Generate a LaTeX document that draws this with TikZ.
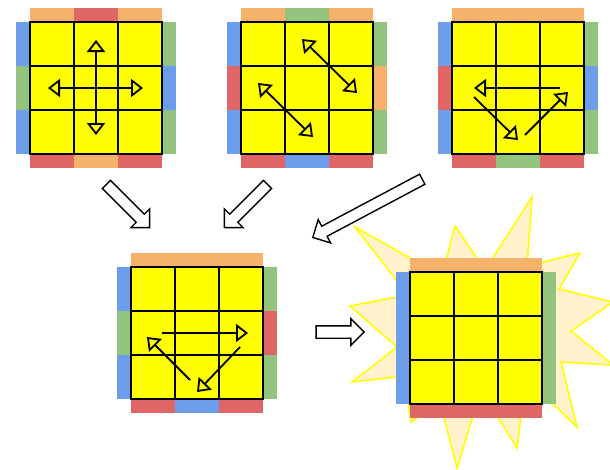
\documentclass[tikz,border=0pt]{standalone}
\usetikzlibrary{arrows.meta, shapes.arrows, calc}
\definecolor{colYellow}{RGB}{255,255,0}
\definecolor{colOrange}{RGB}{246,178,107}
\definecolor{colRed}{RGB}{224,102,102}
\definecolor{colGreen}{RGB}{147,196,125}
\definecolor{colBlue}{RGB}{109,158,235}
\definecolor{colBurst}{RGB}{255,242,204}
\tikzset{
    face/.style={rectangle, draw, fill=colYellow, line width=1.8pt,
        minimum size=132pt, inner sep=0pt, outer sep=0pt},
    gridline/.style={line width=1.7pt},
    move/.style={-{Triangle[open, length=12pt, width=18pt]}, line width=1.8pt},
    twoway/.style={{Triangle[open, length=12pt, width=18pt]}-{Triangle[open, length=12pt, width=18pt]}, line width=1.8pt},
    blockarrow/.style={single arrow, draw, fill=white, line width=1.4pt, inner xsep=0pt,
        inner ysep=5pt, minimum width=25pt, single arrow head extend=7.5pt, single arrow tip angle=90},
    burst/.style={draw=colYellow, fill=colBurst, line width=1.6pt}
}
% name, centre, top / left / right / bottom sticker colours
\newcommand{\cube}[6]{%
    \foreach \c [count=\i] in {#3} \fill[\c] ($(#2)+(44*\i-110,-80)$) rectangle +(44,14);
    \foreach \c [count=\i] in {#4} \fill[\c] ($(#2)+(-80,44*\i-110)$) rectangle +(14,44);
    \foreach \c [count=\i] in {#5} \fill[\c] ($(#2)+(66,44*\i-110)$) rectangle +(14,44);
    \foreach \c [count=\i] in {#6} \fill[\c] ($(#2)+(44*\i-110,66)$) rectangle +(44,14);
    \node[face] (#1) at (#2) {};
    \foreach \k in {1,2} {
        \draw[gridline] ($(#1.north west)+(44*\k,0)$) -- ($(#1.south west)+(44*\k,0)$);
        \draw[gridline] ($(#1.north west)+(0,44*\k)$) -- ($(#1.north east)+(0,44*\k)$);
    }%
}

\begin{document}
\begin{tikzpicture}[x=1pt, y=-1pt]
    \useasboundingbox (0,0) rectangle (610,469);

    % three cases on top
    \cube{caseA}{96,88}{colOrange,colRed,colOrange}{colBlue,colGreen,colBlue}{colGreen,colBlue,colGreen}{colRed,colOrange,colRed}
    \draw[twoway] ($(caseA)+(0,-48)$) -- ($(caseA)+(0,47)$);
    \draw[twoway] ($(caseA)+(-48,0)$) -- ($(caseA)+(47,0)$);

    \cube{caseB}{307,88}{colOrange,colGreen,colOrange}{colBlue,colRed,colBlue}{colGreen,colOrange,colGreen}{colRed,colBlue,colRed}
    \draw[twoway] ($(caseB)+(-5,-49)$) -- ($(caseB)+(50,5)$);
    \draw[twoway] ($(caseB)+(-49,-5)$) -- ($(caseB)+(6,49)$);

    \cube{caseC}{518,88}{colOrange,colOrange,colOrange}{colBlue,colRed,colBlue}{colGreen,colBlue,colGreen}{colRed,colGreen,colRed}
    \draw[move] ($(caseC)+(42,0)$) -- ($(caseC)+(-44,0)$);
    \draw[move] ($(caseC)+(-44,9)$) -- ($(caseC)+(0,52)$);
    \draw[move] ($(caseC)+(7,47)$) -- ($(caseC)+(50,4)$);

    % common case
    \cube{common}{197,333}{colOrange,colOrange,colOrange}{colBlue,colGreen,colBlue}{colGreen,colRed,colGreen}{colRed,colBlue,colRed}
    \draw[move] ($(common)+(-35,0)$) -- ($(common)+(51,0)$);
    \draw[move] ($(common)+(-7,47)$) -- ($(common)+(-50,4)$);
    \draw[move] ($(common)+(43,14)$) -- ($(common)+(0,59)$);

    % solved
    \draw[burst] (355,227) -- (442,276) -- (455,226) -- (485,270) -- (532,197) -- (527,266)
        -- (580,253) -- (559,289) -- (613,302) -- (571,331) -- (613,365) -- (561,362)
        -- (577,427) -- (526,378) -- (517,448) -- (481,390) -- (457,468) -- (440,402)
        -- (411,422) -- (404,376) -- (352,382) -- (397,347) -- (350,306) -- (408,295) -- cycle;
    \cube{solved}{476,338}{colOrange,colOrange,colOrange}{colBlue,colBlue,colBlue}{colGreen,colGreen,colGreen}{colRed,colRed,colRed}

    % block arrows
    \node[blockarrow, minimum height=61pt, rotate=-45] (stepA) at (126,204) {};
    \node[blockarrow, minimum height=61pt, rotate=-135] (stepB) at (248,204) {};
    \node[blockarrow, minimum height=124pt, rotate=208] (stepC) at (370,207) {};
    \node[blockarrow, minimum height=48pt, inner ysep=5.5pt, single arrow head extend=7pt] (stepD) at (337,332) {};

\end{tikzpicture}
\end{document}
